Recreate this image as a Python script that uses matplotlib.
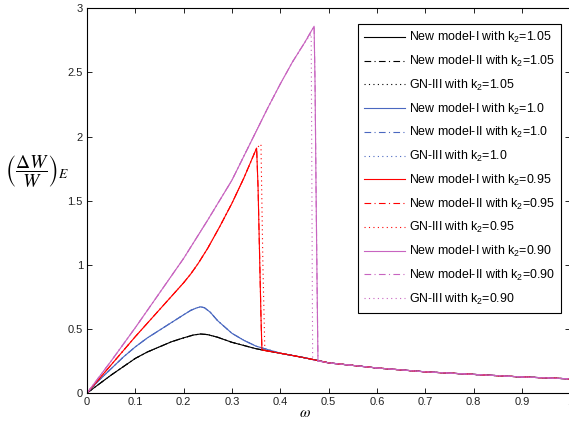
import matplotlib.pyplot as plt

plt.rcParams['font.family'] = ['Liberation Sans', 'DejaVu Sans']
plt.rcParams['mathtext.fontset'] = 'custom'
plt.rcParams['mathtext.rm'] = 'Liberation Sans'
plt.rcParams['mathtext.it'] = 'Liberation Sans:italic'

# common decaying branch that every curve joins at larger omega
tail_w = [0.4, 0.45, 0.5, 0.55, 0.6, 0.65, 0.7, 0.75, 0.8, 0.85, 0.9, 0.95, 1.0]
tail_v = [0.31, 0.275, 0.235, 0.215, 0.195, 0.18, 0.165, 0.155, 0.145, 0.135, 0.125, 0.118, 0.11]

# k2 = 1.05
w_105 = [0, 0.025, 0.05, 0.075, 0.1, 0.125, 0.15, 0.175, 0.2, 0.22, 0.235, 0.25, 0.27, 0.3, 0.35] + tail_w
v_105 = [0, 0.07, 0.14, 0.205, 0.27, 0.32, 0.36, 0.4, 0.43, 0.452, 0.46, 0.455, 0.435, 0.395, 0.345] + tail_v

# k2 = 1.0
w_100 = [0, 0.025, 0.05, 0.075, 0.1, 0.125, 0.15, 0.175, 0.2, 0.215, 0.228, 0.235, 0.243, 0.255, 0.27, 0.3, 0.325, 0.35] + tail_w
v_100 = [0, 0.1, 0.19, 0.28, 0.36, 0.43, 0.49, 0.55, 0.61, 0.645, 0.665, 0.672, 0.665, 0.63, 0.565, 0.465, 0.41, 0.365] + tail_v

# k2 = 0.95 (rising branch, then jump down)
rise_w_095 = [0, 0.05, 0.1, 0.15, 0.2, 0.215, 0.23, 0.25, 0.275, 0.3, 0.325, 0.351]
rise_v_095 = [0, 0.22, 0.44, 0.65, 0.86, 0.93, 1.01, 1.13, 1.30, 1.48, 1.68, 1.91]
w_095 = rise_w_095 + [0.354, 0.357, 0.36, 0.362] + tail_w
v_095 = rise_v_095 + [1.6, 1.1, 0.6, 0.335] + tail_v
w_095_gn = rise_w_095 + [0.36, 0.364, 0.368] + tail_w
v_095_gn = rise_v_095 + [1.94, 1.0, 0.335] + tail_v

# k2 = 0.90
rise_w_090 = [0, 0.05, 0.1, 0.15, 0.2, 0.25, 0.3, 0.325, 0.35, 0.375, 0.4, 0.425, 0.45]
rise_v_090 = [0, 0.25, 0.51, 0.78, 1.05, 1.35, 1.66, 1.85, 2.04, 2.23, 2.41, 2.58, 2.73]
w_090 = rise_w_090 + [0.47, 0.472, 0.474, 0.476, 0.478] + tail_w[2:]
v_090 = rise_v_090 + [2.86, 2.4, 1.6, 0.9, 0.25] + tail_v[2:]
w_090_gn = rise_w_090 + [0.464, 0.467] + tail_w[2:]
v_090_gn = rise_v_090 + [2.80, 0.255] + tail_v[2:]

k2_labels = ['1.05', '1.0', '0.95', '0.90']
colors = ['#000000', '#4a68c0', '#ff0000', '#c864c0']
model1 = [(w_105, v_105), (w_100, v_100), (w_095, v_095), (w_090, v_090)]
model2 = [(w_105, v_105), (w_100, v_100), (w_095, v_095), (w_090, v_090)]
gn3 = [(w_105, v_105), (w_100, v_100), (w_095_gn, v_095_gn), (w_090_gn, v_090_gn)]

fig = plt.figure(figsize=(5.69, 4.26), dpi=100)
ax = fig.add_axes([0.153, 0.0775, 0.849, 0.903])

for k, c, m1, m2, g in zip(k2_labels, colors, model1, model2, gn3):
    ax.plot(m1[0], m1[1], color=c, lw=0.8, ls='-',
            label='New model-I with k$_2$=' + k)
    ax.plot(m2[0], m2[1], color=c, lw=0.8, ls=(0, (6, 3, 1, 3)),
            label='New model-II with k$_2$=' + k)
    ax.plot(g[0], g[1], color=c, lw=0.8, ls=(0, (1, 3)),
            label='GN-III with k$_2$=' + k)

ax.set_xlim(0, 1)
ax.set_ylim(0, 3)
ax.set_xticks([0, 0.1, 0.2, 0.3, 0.4, 0.5, 0.6, 0.7, 0.8, 0.9, 1.0])
ax.set_xticklabels(['0', '0.1', '0.2', '0.3', '0.4', '0.5', '0.6', '0.7', '0.8', '0.9', '1'])
ax.set_yticks([0, 0.5, 1, 1.5, 2, 2.5, 3])
ax.set_yticklabels(['0', '0.5', '1', '1.5', '2', '2.5', '3'])
ax.tick_params(direction='in', top=True, right=True, length=3.5, width=0.7,
               labelsize=8, colors='#222222', pad=3)
for s in ax.spines.values():
    s.set_linewidth(0.8)

leg = ax.legend(loc='upper left', bbox_to_anchor=(358 / 569, 1 - 24 / 426),
                bbox_transform=fig.transFigure, borderaxespad=0, fontsize=8.9,
                handlelength=3.3, handletextpad=0.3, labelspacing=0.7,
                fancybox=False, framealpha=1, edgecolor='black',
                borderpad=0.5)
leg.get_frame().set_linewidth(0.8)

fig.text(305 / 569, 1 - 413 / 426, r'$\omega$', fontsize=11, ha='center', va='center',
         math_fontfamily='stix')
fig.text(37 / 569, 1 - 172 / 426, r'$\left(\dfrac{\Delta W}{W}\right)_E$', fontsize=14,
         ha='center', va='center', math_fontfamily='stix')

fig.savefig('out.png', dpi=100)
